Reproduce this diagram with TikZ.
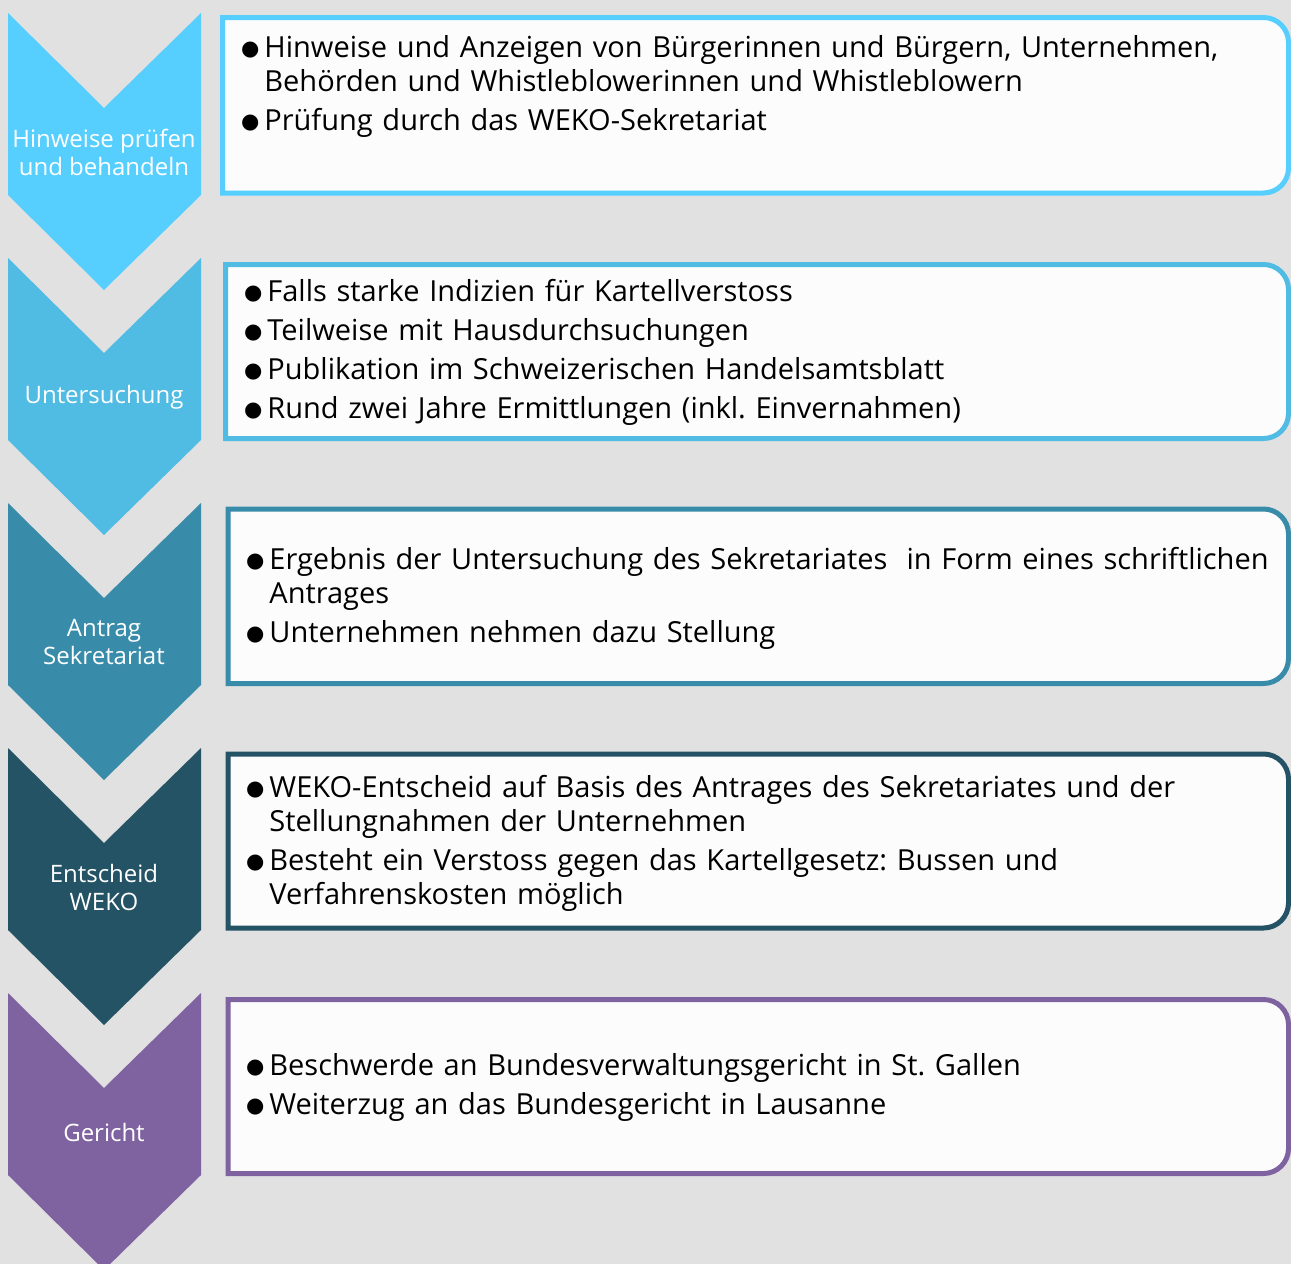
\documentclass[tikz,border=0pt]{standalone}
\usepackage{fontspec}
\setmainfont{Open Sans}
\newfontfamily\dotfont{DejaVu Sans}
\usetikzlibrary{positioning}
\definecolor{hinweis}{HTML}{56CFFF}
\definecolor{untersuch}{HTML}{50BBE3}
\definecolor{antrag}{HTML}{388CA9}
\definecolor{entscheid}{HTML}{235365}
\definecolor{gericht}{HTML}{7F63A0}
\definecolor{bggray}{HTML}{E1E1E1}
\definecolor{boxfill}{HTML}{FCFCFC}
\tikzset{
      chevron/.style   = {draw=none},
      stepbox/.style   = {line width=2.5pt, fill=boxfill},
      steplabel/.style = {text=white, align=center, inner sep=0pt,
                          font=\fontsize{12}{14}\selectfont},
      bullets/.style   = {anchor=base west, text width=520pt, inner sep=0pt,
                          align=left, font=\fontsize{14.5}{17}\selectfont\frenchspacing},
    }
\newcommand{\bitem}{\noindent\hangindent=11pt\hangafter=1\makebox[11pt][l]{\hspace{-0.6pt}\raisebox{0.9pt}{\dotfont\fontsize{10.5}{10.5}\selectfont ●}}}
\newcommand{\bgap}{\par\vspace{2.5pt}}
\newcommand{\nl}{\hfil\break}

\begin{document}
\begin{tikzpicture}[x=0.5pt,y=-0.5pt,node distance=122.5pt]
          \useasboundingbox (0,0) rectangle (1291,1264);
          \fill[bggray] (0,0) rectangle (1291,1264);

          \fill[chevron, hinweis]   (8,13)  -- (104,108)  -- (201,13)  -- (201,195)  -- (104,290)  -- (8,195)  -- cycle;
          \fill[chevron, untersuch] (8,258) -- (104,353)  -- (201,258) -- (201,440)  -- (104,535)  -- (8,440)  -- cycle;
          \fill[chevron, antrag]    (8,503) -- (104,598)  -- (201,503) -- (201,685)  -- (104,780)  -- (8,685)  -- cycle;
          \fill[chevron, entscheid] (8,748) -- (104,843)  -- (201,748) -- (201,930)  -- (104,1025) -- (8,930)  -- cycle;
          \fill[chevron, gericht]   (8,993) -- (104,1088) -- (201,993) -- (201,1175) -- (104,1270) -- (8,1175) -- cycle;

          \node[steplabel] (s1) at (104,152) {Hinweise prüfen\\und behandeln};
          \node[steplabel, below of=s1] (s2) {Untersuchung};
          \node[steplabel, below of=s2] (s3) {Antrag\\Sekretariat};
          \node[steplabel, below of=s3] (s4) {Entscheid\\WEKO};
          \node[steplabel, below of=s4] (s5) {Gericht};

          \draw[stepbox, draw=hinweis]   (222.5,17.5) -- (1263.5,17.5) arc[start angle=-90, end angle=0, radius=25]
               -- (1288.5,168) arc[start angle=0, end angle=90, radius=25] -- (222.5,193) -- cycle;
          \draw[stepbox, draw=untersuch] (225.5,264.5) -- (1263.5,264.5) arc[start angle=-90, end angle=0, radius=25]
               -- (1288.5,413.5) arc[start angle=0, end angle=90, radius=25] -- (225.5,438.5) -- cycle;
          \draw[stepbox, draw=antrag]    (228,509) -- (1263.5,509) arc[start angle=-90, end angle=0, radius=25]
               -- (1288.5,658.5) arc[start angle=0, end angle=90, radius=25] -- (228,683.5) -- cycle;
          \draw[stepbox, draw=entscheid] (228,754) -- (1263.5,754) arc[start angle=-90, end angle=0, radius=25]
               -- (1288.5,903) arc[start angle=0, end angle=90, radius=25] -- (228,928) -- cycle;
          \draw[stepbox, draw=gericht]   (228,999.5) -- (1263.5,999.5) arc[start angle=-90, end angle=0, radius=25]
               -- (1288.5,1148.5) arc[start angle=0, end angle=90, radius=25] -- (228,1173.5) -- cycle;

          \node[bullets] (t1) at (242,57) {\bitem Hinweise und Anzeigen von Bürgerinnen und Bürgern, Unternehmen,\nl Behörden und Whistleblowerinnen und Whistleblowern\bgap
               \bitem Prüfung durch das WEKO-Sekretariat\par};
          \node[bullets] (t2) at (245,301) {\bitem Falls starke Indizien für Kartellverstoss\bgap
               \bitem Teilweise mit Hausdurchsuchungen\bgap
               \bitem Publikation im Schweizerischen Handelsamtsblatt\bgap
               \bitem Rund zwei Jahre Ermittlungen (inkl. Einvernahmen)\par};
          \node[bullets] (t3) at (247,569) {\bitem Ergebnis der Untersuchung des Sekretariates \ in Form eines schriftlichen\nl Antrages\bgap
               \bitem Unternehmen nehmen dazu Stellung\par};
          \node[bullets] (t4) at (247,797) {\bitem WEKO-Entscheid auf Basis des Antrages des Sekretariates und der\nl Stellungnahmen der Unternehmen\bgap
               \bitem Besteht ein Verstoss gegen das Kartellgesetz: Bussen und\nl Verfahrenskosten möglich\par};
          \node[bullets] (t5) at (247,1075) {\bitem Beschwerde an Bundesverwaltungsgericht in St. Gallen\bgap
               \bitem Weiterzug an das Bundesgericht in Lausanne\par};
\end{tikzpicture}
\end{document}
